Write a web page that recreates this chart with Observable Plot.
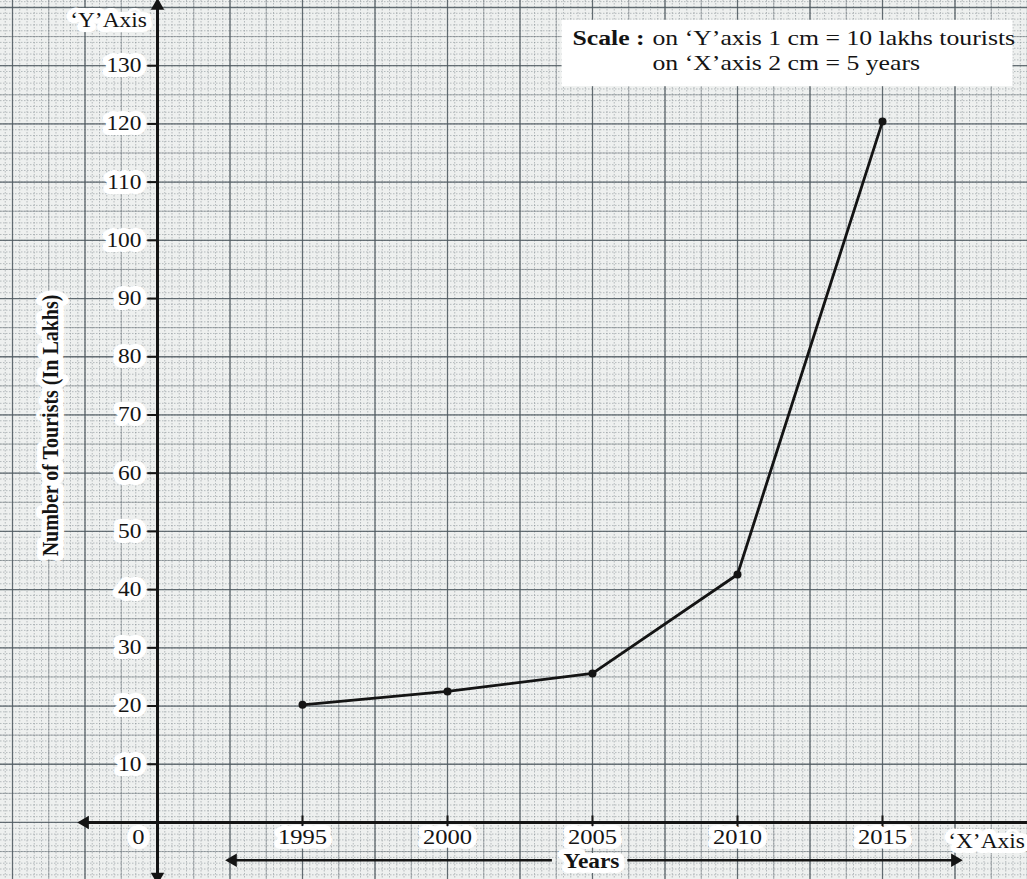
<!DOCTYPE html>
<html>
<head>
<meta charset="utf-8">
<script src="https://cdn.jsdelivr.net/npm/d3@7"></script>
<script src="https://cdn.jsdelivr.net/npm/@observablehq/plot@0.6"></script>
<style>
  html, body { margin: 0; padding: 0; background: #eef0ef; }
  svg { display: block; }
</style>
</head>
<body>
<div id="chart"></div>
<script>
// ---- data ----
const years = [1995, 2000, 2005, 2010, 2015];
const tourists = [20.2, 22.5, 25.6, 42.6, 120.4];
const yTicks = [10, 20, 30, 40, 50, 60, 70, 80, 90, 100, 110, 120, 130];
const xTickLabels = ["1995", "2000", "2005", "2010", "2015"];

const data = years.map((y, i) => ({ year: y, value: tourists[i] }));
const origin = 1990;

const serif = "'Liberation Serif', 'Times New Roman', serif";
const ink = "#141414";

const minorX = d3.range(1984.75, 2020.01, 0.25);
const minorY = d3.range(-9, 142, 1);
const midX = d3.range(1985, 2020.01, 1.25);
const midY = d3.range(-5, 142, 5);
const majX = d3.range(1985, 2020.01, 2.5);
const majY = d3.range(0, 142, 10);

const halo = { stroke: "white", strokeWidth: 10, fill: ink, fontFamily: serif };
const ann = { frameAnchor: "top-left", textAnchor: "middle", lineAnchor: "middle" };

const chart = Plot.plot({
  width: 1027,
  height: 879,
  margin: 0,
  x: { domain: [1984.586, 2020], axis: null },
  y: { domain: [-9.8, 141.2], axis: null },
  style: { fontFamily: serif, background: "#eef0ef", color: ink },
  marks: [
    // graph paper
    Plot.ruleX(minorX, { stroke: "#6f7a80", strokeOpacity: 0.45, strokeDasharray: "1.5,1.5" }),
    Plot.ruleY(minorY, { stroke: "#6f7a80", strokeOpacity: 0.45, strokeDasharray: "1.5,1.5" }),
    Plot.ruleX(midX, { stroke: "#5f6a70", strokeOpacity: 0.5 }),
    Plot.ruleY(midY, { stroke: "#5f6a70", strokeOpacity: 0.5 }),
    Plot.ruleX(majX, { stroke: "#4f5a60", strokeOpacity: 0.75, strokeWidth: 1.3 }),
    Plot.ruleY(majY, { stroke: "#4f5a60", strokeOpacity: 0.75, strokeWidth: 1.3 }),

    // scale box
    Plot.rect([0], { x1: 2003.95, x2: 2019.5, y1: 126.4, y2: 137.8, fill: "white" }),
    Plot.text(["Scale :"], { ...ann, textAnchor: "start", dx: 572, dy: 37, fontWeight: "bold", fontSize: 22, fill: ink }),
    Plot.text(["on \u2018Y\u2019axis 1 cm = 10 lakhs tourists"], { ...ann, textAnchor: "start", dx: 652, dy: 37, fontSize: 22, fill: ink }),
    Plot.text(["on \u2018X\u2019axis 2 cm = 5 years"], { ...ann, textAnchor: "start", dx: 652, dy: 62, fontSize: 22, fill: ink }),

    // axes
    Plot.ruleX([origin], { y1: -9.4, y2: 140.3, stroke: ink, strokeWidth: 3 }),
    Plot.dot([origin], { x: d => d, y: 140.3, symbol: "triangle", r: 5, fill: ink, rotate: 0 }),
    Plot.dot([origin], { x: d => d, y: -9.3, symbol: "triangle", r: 5, fill: ink, rotate: 180 }),
    Plot.ruleY([0], { x1: 1987.5, x2: 2020, stroke: ink, strokeWidth: 3 }),
    Plot.dot([0], { x: 1987.5, y: d => d, symbol: "triangle", r: 5, fill: ink, rotate: -90 }),
    Plot.link(yTicks, { x1: origin - 0.35, x2: origin, y1: d => d, y2: d => d, stroke: ink, strokeWidth: 2 }),
    Plot.link(years, { x1: d => d, x2: d => d, y1: 1.2, y2: -1.2, stroke: ink, strokeWidth: 2 }),

    // tick labels
    Plot.text(yTicks, { x: origin, y: d => d, text: d => String(d), textAnchor: "end", dx: -16, dy: 0, fontSize: 20, ...halo }),
    Plot.text(xTickLabels, { x: (d, i) => years[i], y: 0, text: d => d, dy: 15, fontSize: 21, ...halo }),
    Plot.text(["0"], { x: origin, y: 0, text: d => d, dx: -19, dy: 15, fontSize: 21, ...halo }),
    Plot.text(["\u2018Y\u2019Axis"], { ...ann, dx: 108, dy: 20, text: d => d, fontSize: 20, ...halo }),
    Plot.text(["\u2018X\u2019Axis"], { ...ann, dx: 986, dy: 841, text: d => d, fontSize: 20, ...halo }),

    // Years label with arrows
    Plot.link([0], { x1: 1992.6, x2: 2003.6, y1: -6.5, y2: -6.5, stroke: ink, strokeWidth: 2.5 }),
    Plot.link([0], { x1: 2006.2, x2: 2017.4, y1: -6.5, y2: -6.5, stroke: ink, strokeWidth: 2.5 }),
    Plot.dot([0], { x: 1992.6, y: -6.5, symbol: "triangle", r: 5, fill: ink, rotate: -90 }),
    Plot.dot([0], { x: 2017.5, y: -6.5, symbol: "triangle", r: 5, fill: ink, rotate: 90 }),
    Plot.text(["Years"], { ...ann, dx: 591, dy: 861, text: d => d, fontSize: 20, fontWeight: "bold", ...halo }),

    // y-axis title
    Plot.text(["Number of Tourists (In Lakhs)"], { ...ann, dx: 50, dy: 425, text: d => d, rotate: -90, fontSize: 20, fontWeight: "bold", ...halo }),

    // data
    Plot.line(data, { x: "year", y: "value", stroke: ink, strokeWidth: 2.8 }),
    Plot.dot(data, { x: "year", y: "value", r: 4, fill: ink })
  ]
});

// stretch text horizontally like the photographed sheet (wider than tall)
d3.select(chart).selectAll("text").each(function () {
  const t = this.getAttribute("transform") || "";
  const m = t.match(/^(translate\([^)]*\))(.*)$/);
  if (m) this.setAttribute("transform", m[1] + " scale(1.17,1)" + m[2]);
  else this.setAttribute("transform", "scale(1.17,1) " + t);
});

document.getElementById("chart").appendChild(chart);
</script>
</body>
</html>
